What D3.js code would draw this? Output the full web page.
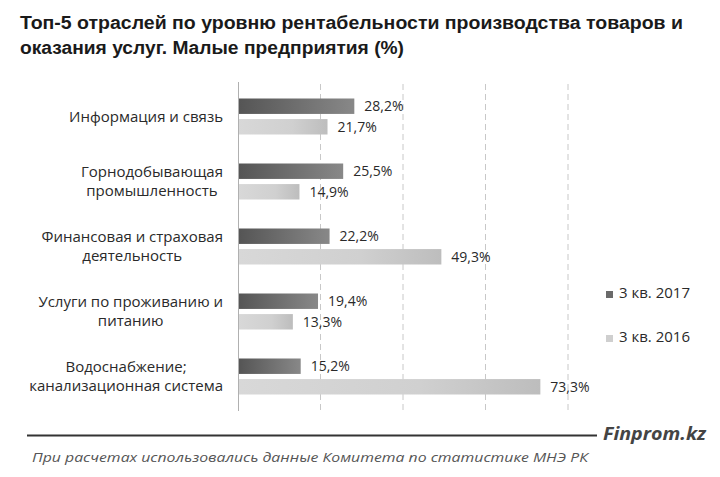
<!DOCTYPE html>
<html><head><meta charset="utf-8">
<script src="https://cdn.jsdelivr.net/npm/d3@7"></script>
<style>body{margin:0;background:#fff}svg{display:block}</style>
</head><body>
<script>
const categories = [
  ["Информация и связь"],
  ["Горнодобывающая", "промышленность"],
  ["Финансовая и страховая", "деятельность"],
  ["Услуги  по проживанию и", "питанию"],
  ["Водоснабжение;", "канализационная система"]
];
const seriesNames = ["3 кв. 2017", "3 кв. 2016"];
const values2017 = [28.2, 25.5, 22.2, 19.4, 15.2];
const values2016 = [21.7, 14.9, 49.3, 13.3, 73.3];
const xTicks = [0, 20, 40, 60, 80];
const titleLines = ["Топ-5 отраслей по уровню рентабельности производства товаров и", "оказания услуг. Малые предприятия (%)"];
const sourceText = "При расчетах использовались данные Комитета по статистике МНЭ РК";
const brand = "Finprom.kz";

const W = 720, H = 477;
const svg = d3.select("body").append("svg").attr("width", W).attr("height", H);
const defs = svg.append("defs");
const gDark = defs.append("linearGradient").attr("id", "gDark");
gDark.append("stop").attr("offset", "0%").attr("stop-color", "#555555");
gDark.append("stop").attr("offset", "100%").attr("stop-color", "#888888");
const gLight = defs.append("linearGradient").attr("id", "gLight");
gLight.append("stop").attr("offset", "0%").attr("stop-color", "#d8d8d8");
gLight.append("stop").attr("offset", "60%").attr("stop-color", "#d0d0d0");
gLight.append("stop").attr("offset", "100%").attr("stop-color", "#bdbdbd");
const fills = ["url(#gDark)", "url(#gLight)"];
const legendFills = ["#6a6a6a", "#cfcfcf"];

// title
const titleFont = "'Liberation Sans Narrow','Arial Narrow','Liberation Sans',Arial,sans-serif";
svg.append("text").attr("x", 20).attr("y", 29).text(titleLines[0])
  .attr("font-family", titleFont).attr("font-weight", "bold").attr("font-size", 18).attr("fill", "#1a1a1a")
  .attr("textLength", 663).attr("lengthAdjust", "spacingAndGlyphs");
svg.append("text").attr("x", 20).attr("y", 54).text(titleLines[1])
  .attr("font-family", titleFont).attr("font-weight", "bold").attr("font-size", 18).attr("fill", "#1a1a1a")
  .attr("textLength", 384).attr("lengthAdjust", "spacingAndGlyphs");

const x = d3.scaleLinear().domain([0, 80]).range([238, 568]);
const y = d3.scaleBand().domain(d3.range(categories.length)).range([84, 409]);
const ys = d3.scaleBand().domain([0, 1]).range([14.5, 50.5]).paddingInner(0.25);

// gridlines
svg.append("g").selectAll("line").data(xTicks.slice(1)).join("line")
  .attr("x1", d => x(d)).attr("x2", d => x(d)).attr("y1", 84).attr("y2", 410)
  .attr("stroke", "#c8c8c8").attr("stroke-width", 1).attr("stroke-dasharray", "6,4");

// axis line
svg.append("line").attr("x1", x(0) + 0.5).attr("x2", x(0) + 0.5).attr("y1", 82).attr("y2", 411)
  .attr("stroke", "#b0b0b0").attr("stroke-width", 1);

const labFont = "'Open Sans','Noto Sans',sans-serif";
const series = [values2017, values2016];
series.forEach((vals, si) => {
  const g = svg.append("g");
  g.selectAll("rect").data(vals).join("rect")
    .attr("x", x(0) + 1).attr("y", (d, i) => y(i) + ys(si))
    .attr("width", d => x(d) - x(0) - 1).attr("height", ys.bandwidth())
    .attr("fill", fills[si]);
  g.selectAll("text").data(vals).join("text")
    .attr("x", d => x(d) + 10).attr("y", (d, i) => y(i) + ys(si) + ys.bandwidth() / 2 + 5)
    .text(d => d3.format(".1f")(d).replace(".", ",") + "%")
    .attr("font-family", labFont).attr("font-size", 14).attr("fill", "#2a2a2a");
});

// category labels (centered lines, right-aligned block)
categories.forEach((lines, i) => {
  const g = svg.append("g");
  const cy = y(i) + y.bandwidth() / 2;
  const ts = lines.map((l, k) => g.append("text").text(l)
    .attr("font-family", labFont).attr("font-size", 15).attr("fill", "#2a2a2a")
    .attr("text-anchor", "middle")
    .attr("y", cy + 5 + (k - (lines.length - 1) / 2) * 19));
  const maxW = d3.max(ts, t => t.node().getComputedTextLength());
  ts.forEach(t => t.attr("x", 223 - maxW / 2));
});

// legend
seriesNames.forEach((n, i) => {
  const ly = 298 + i * 44;
  svg.append("rect").attr("x", 606).attr("y", ly - 7).attr("width", 7).attr("height", 7).attr("fill", legendFills[i]);
  svg.append("text").attr("x", 619).attr("y", ly).text(n)
    .attr("font-family", labFont).attr("font-size", 15).attr("fill", "#2a2a2a");
});

// footer
svg.append("line").attr("x1", 27).attr("x2", 597).attr("y1", 435.5).attr("y2", 435.5)
  .attr("stroke", "#333").attr("stroke-width", 2);
svg.append("text").attr("x", 603).attr("y", 440).text(brand)
  .attr("font-family", labFont).attr("font-style", "italic").attr("font-weight", "bold")
  .attr("font-size", 17).attr("fill", "#444").attr("textLength", 103).attr("lengthAdjust", "spacingAndGlyphs");
svg.append("text").attr("x", 32).attr("y", 462).text(sourceText)
  .attr("font-family", labFont).attr("font-style", "italic")
  .attr("font-size", 13).attr("fill", "#555").attr("textLength", 556).attr("lengthAdjust", "spacingAndGlyphs");
</script>
</body></html>
